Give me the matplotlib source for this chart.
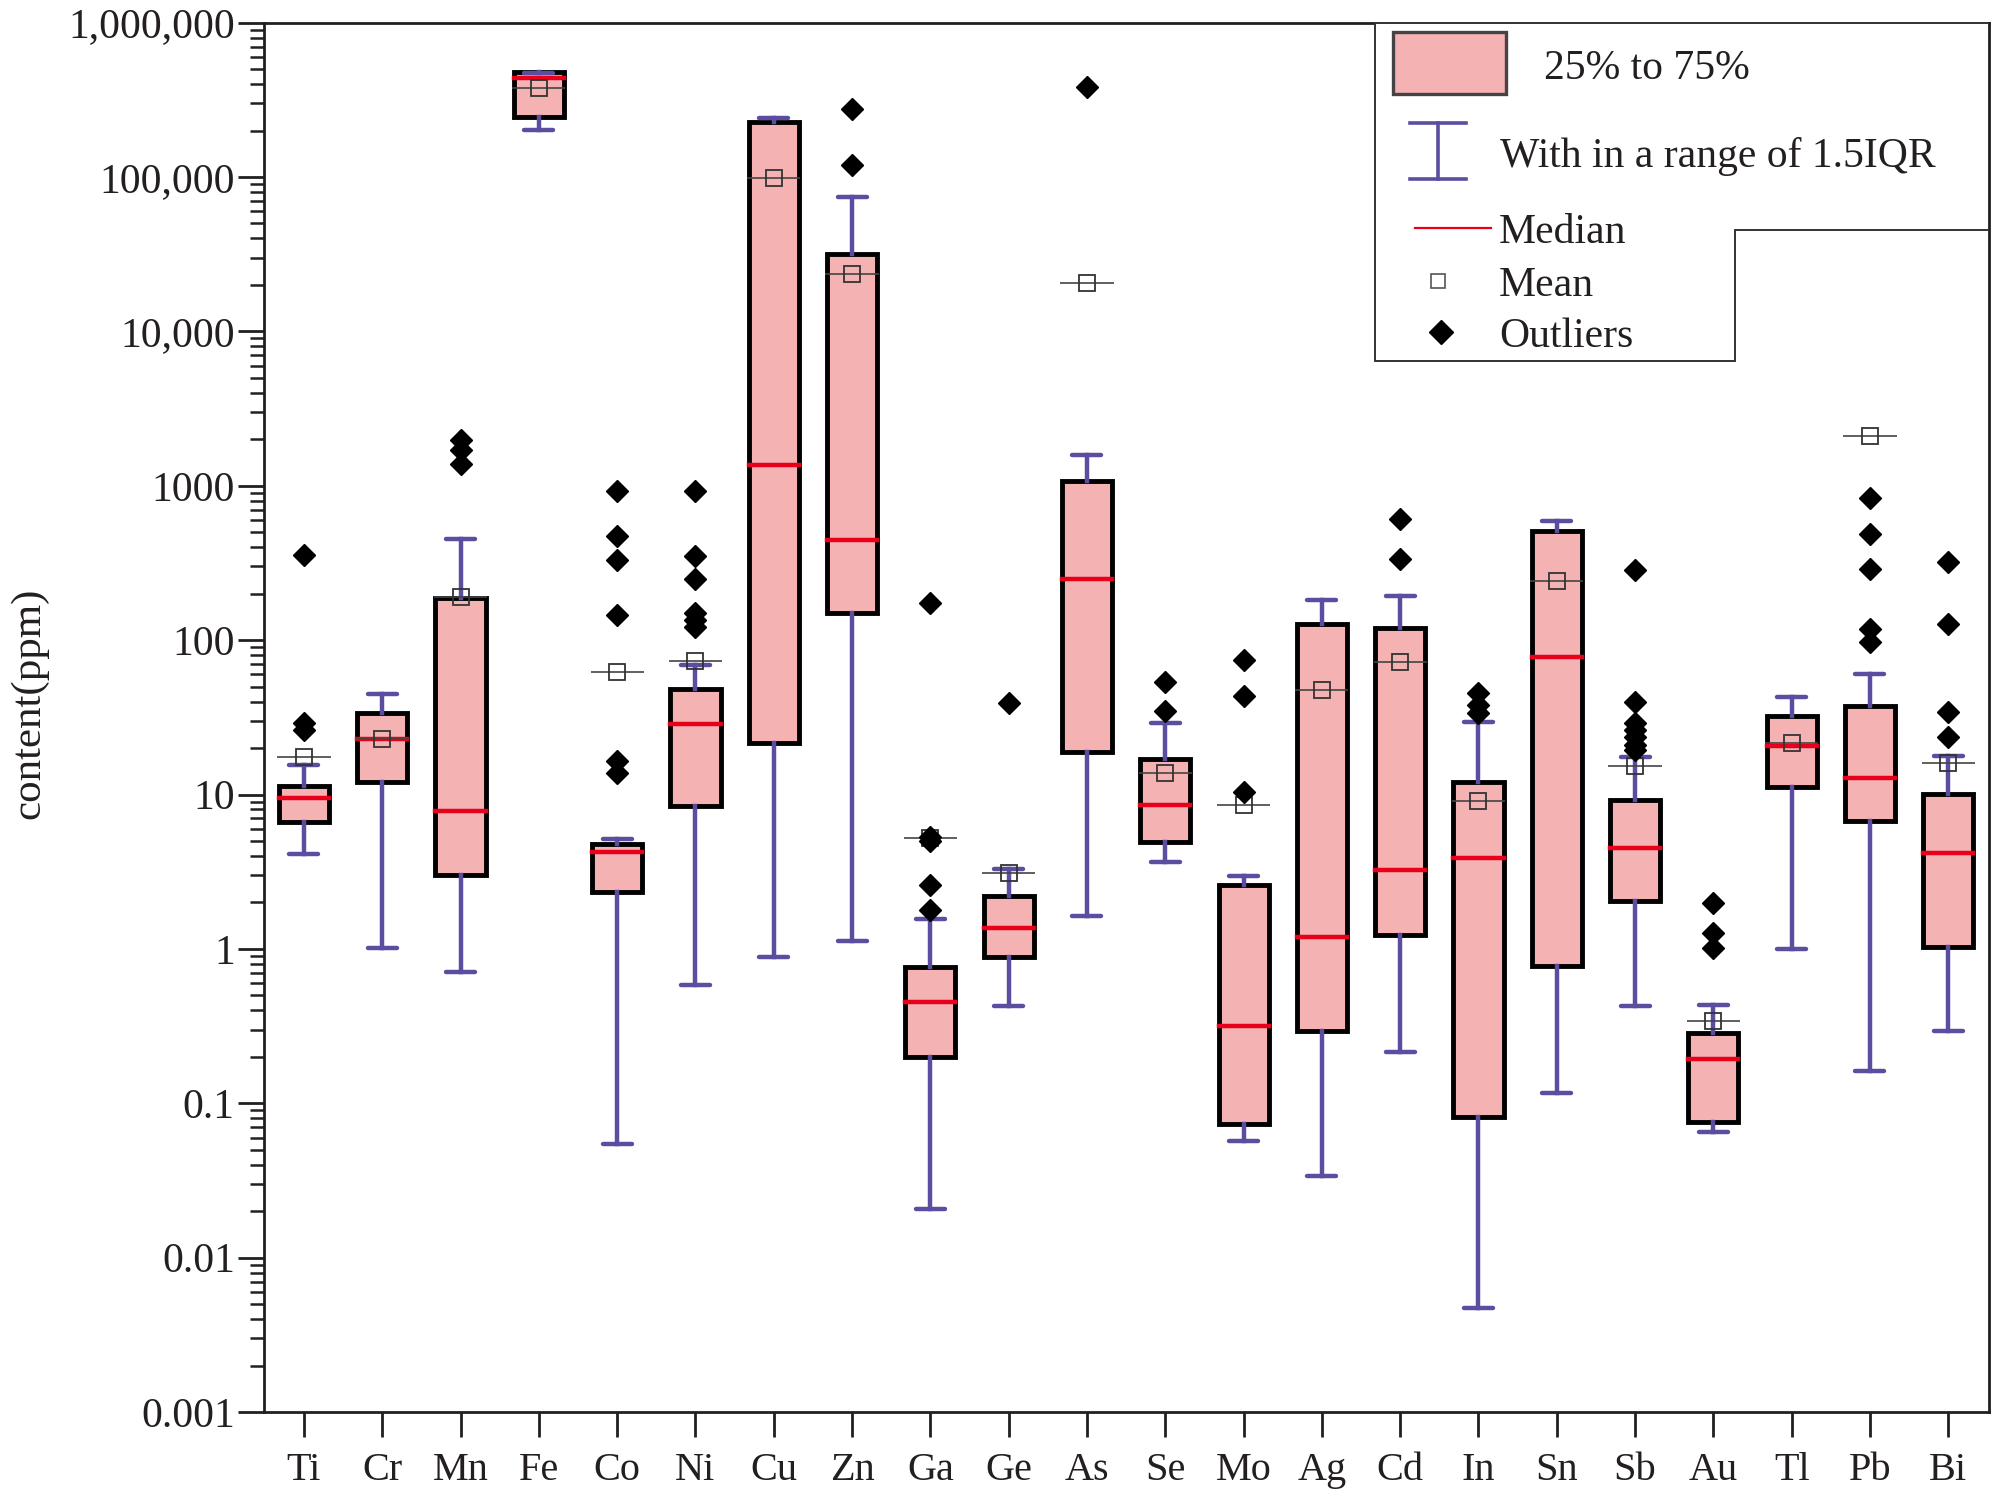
import numpy as np
import matplotlib
matplotlib.use("Agg")
import matplotlib.pyplot as plt
from matplotlib.ticker import LogLocator, NullFormatter
from matplotlib.patches import Polygon, Rectangle
from matplotlib.lines import Line2D

plt.rcParams['font.family'] = ['Liberation Serif', 'DejaVu Serif']
TXT = '#231f20'

elements = ['Ti', 'Cr', 'Mn', 'Fe', 'Co', 'Ni', 'Cu', 'Zn', 'Ga', 'Ge', 'As',
            'Se', 'Mo', 'Ag', 'Cd', 'In', 'Sn', 'Sb', 'Au', 'Tl', 'Pb', 'Bi']

q1 = [6.68, 12.0, 2.99, 245000, 2.34, 8.43, 21.6, 149, 0.20, 0.89, 19.0,
      4.96, 0.073, 0.294, 1.23, 0.082, 0.78, 2.03, 0.076, 11.2, 6.73, 1.03]
median = [9.55, 23.0, 7.87, 438000, 4.26, 28.5, 1365, 443, 0.456, 1.36, 248,
          8.5, 0.318, 1.19, 3.25, 3.87, 77.6, 4.53, 0.193, 20.6, 12.8, 4.18]
q3 = [11.4, 33.8, 188, 480000, 4.75, 48.4, 228000, 31900, 0.762, 2.21, 1067,
      17.0, 2.6, 127, 120, 12.1, 513, 9.2, 0.286, 32.2, 37.5, 10.1]
whislo = [4.15, 1.01, 0.71, 202000, 0.0545, 0.586, 0.89, 1.12, 0.0207, 0.424, 1.64,
          3.65, 0.057, 0.034, 0.216, 0.0047, 0.117, 0.43, 0.065, 1.0, 0.163, 0.293]
whishi = [15.5, 45, 452, 470000, 5.18, 68.6, 242000, 74000, 1.56, 3.3, 1590,
          29, 2.97, 182, 192, 29.5, 595, 17.6, 0.435, 43.1, 60.3, 17.8]
means = [17.5, 23.0, 190, 380000, 61.8, 73.6, 98600, 23600, 5.2, 3.1, 20600,
         13.8, 8.5, 47.6, 72.3, 9.1, 240, 15.3, 0.342, 21.6, 2100, 16.1]
outliers = [
    [356, 29, 26],                      # Ti
    [],                                 # Cr
    [1980, 1710, 1385],                 # Mn
    [],                                 # Fe
    [927, 471, 332, 146, 16.4, 13.7],   # Co
    [927, 349, 250, 150, 135, 122],     # Ni
    [],                                 # Cu
    [277000, 119000],                   # Zn
    [174, 5.3, 5.0, 2.6, 1.79],         # Ga
    [39.4],                             # Ge
    [383000],                           # As
    [53.2, 35],                         # Se
    [74.5, 43.8, 10.45],                # Mo
    [],                                 # Ag
    [608, 334],                         # Cd
    [45.8, 38.1, 33.7],                 # In
    [],                                 # Sn
    [283, 39.5, 29.1, 26.2, 23.7, 20.8, 19.3],  # Sb
    [1.99, 1.27, 1.007],                # Au
    [],                                 # Tl
    [832, 484, 290, 117.5, 97.3],       # Pb
    [321, 127.6, 34.4, 23.7],           # Bi
]

ytick_vals = [1e-3, 1e-2, 1e-1, 1, 10, 100, 1000, 1e4, 1e5, 1e6]
ytick_labels = ['0.001', '0.01', '0.1', '1', '10', '100', '1000',
                '10,000', '100,000', '1,000,000']

legend_labels = ['25% to 75%', 'With in a range of 1.5IQR', 'Median', 'Mean', 'Outliers']

BOX_FILL = '#f4b2b2'
WHISK = '#5b4da0'
MED = '#e8001a'

fig = plt.figure(figsize=(20.01, 14.99), dpi=100)
ax = fig.add_axes([0.1319, 0.0580, 0.9940 - 0.1319, 0.9849 - 0.0580])

pos = np.arange(1, len(elements) + 1)
stats = []
for i, name in enumerate(elements):
    stats.append(dict(label=name, med=median[i], q1=q1[i], q3=q3[i],
                      whislo=whislo[i], whishi=whishi[i], mean=means[i],
                      fliers=outliers[i]))

ax.bxp(stats, positions=pos, widths=0.64, capwidths=0.37, patch_artist=True,
       showmeans=True, showfliers=True,
       boxprops=dict(facecolor=BOX_FILL, edgecolor='black', linewidth=3.5),
       whiskerprops=dict(color=WHISK, linewidth=3.2),
       capprops=dict(color=WHISK, linewidth=3.2, solid_capstyle='round'),
       medianprops=dict(color=MED, linewidth=3.2, solid_capstyle='projecting'),
       meanprops=dict(marker='s', markerfacecolor='none', markeredgecolor='#333333',
                      markersize=11, markeredgewidth=1.3, zorder=5),
       flierprops=dict(marker='D', markerfacecolor='black', markeredgecolor='black',
                       markersize=11.5, linestyle='none', zorder=6))

ax.hlines(means, pos - 0.34, pos + 0.34, colors='#444444', linewidth=1.2, zorder=4)

ax.set_yscale('log')
ax.set_ylim(1e-3, 1e6)
ax.set_xlim(0.489, 22.52)
ax.set_yticks(ytick_vals, ytick_labels)
ax.yaxis.set_minor_locator(LogLocator(base=10, subs=np.arange(2, 10)))
ax.yaxis.set_minor_formatter(NullFormatter())
ax.set_xticks(pos, elements)

ax.tick_params(axis='y', which='major', direction='out', length=19, width=2,
               labelsize=30, pad=2, colors=TXT)
ax.tick_params(axis='y', which='minor', direction='out', length=10, width=1.8, colors=TXT)
ax.tick_params(axis='x', which='major', direction='out', length=18, width=2,
               labelsize=29, pad=11, colors=TXT)
ax.tick_params(top=False, right=False, which='both')
for s in ax.spines.values():
    s.set_linewidth(2)
    s.set_color(TXT)

ax.set_ylabel('content(ppm)', fontsize=31, color=TXT)
ax.yaxis.set_label_coords(-0.125, 0.51)

# ---- custom legend (L-shaped frame) ----
T = ax.transAxes
frame = Polygon([(0.644, 1.0), (1.0, 1.0), (1.0, 0.8508), (0.8528, 0.8508),
                 (0.8528, 0.7565), (0.644, 0.7565)], closed=True, transform=T,
                facecolor='white', edgecolor='#333333', linewidth=1.4, zorder=10)
ax.add_patch(frame)
ax.add_patch(Rectangle((0.6545, 0.9487), 0.0655, 0.0444, transform=T,
                       facecolor=BOX_FILL, edgecolor='#444444', linewidth=2.4, zorder=11))
ax.add_line(Line2D([0.6806, 0.6806], [0.8873, 0.928], transform=T, color=WHISK,
                   linewidth=2.6, zorder=11))
for yy in (0.8873, 0.928):
    ax.add_line(Line2D([0.6644, 0.6968], [yy, yy], transform=T, color=WHISK,
                       linewidth=2.6, zorder=11))
ax.add_line(Line2D([0.6672, 0.7113], [0.852, 0.852], transform=T, color=MED,
                   linewidth=1.6, zorder=11))
ax.add_line(Line2D([0.6806], [0.8141], transform=T, marker='s', markersize=10,
                   markerfacecolor='white', markeredgecolor='#555555',
                   markeredgewidth=1.2, linestyle='none', zorder=11))
ax.add_line(Line2D([0.6823], [0.7772], transform=T, marker='D', markersize=12,
                   markerfacecolor='black', markeredgecolor='black',
                   linestyle='none', zorder=11))
text_pos = [(0.742, 0.9703), (0.7165, 0.9071), (0.716, 0.852), (0.716, 0.8141), (0.716, 0.7772)]
for (tx, ty), lab in zip(text_pos, legend_labels):
    ax.text(tx, ty, lab, transform=T, fontsize=30, color=TXT, ha='left',
            va='center_baseline', zorder=12)

fig.savefig('out.png', dpi=100)
